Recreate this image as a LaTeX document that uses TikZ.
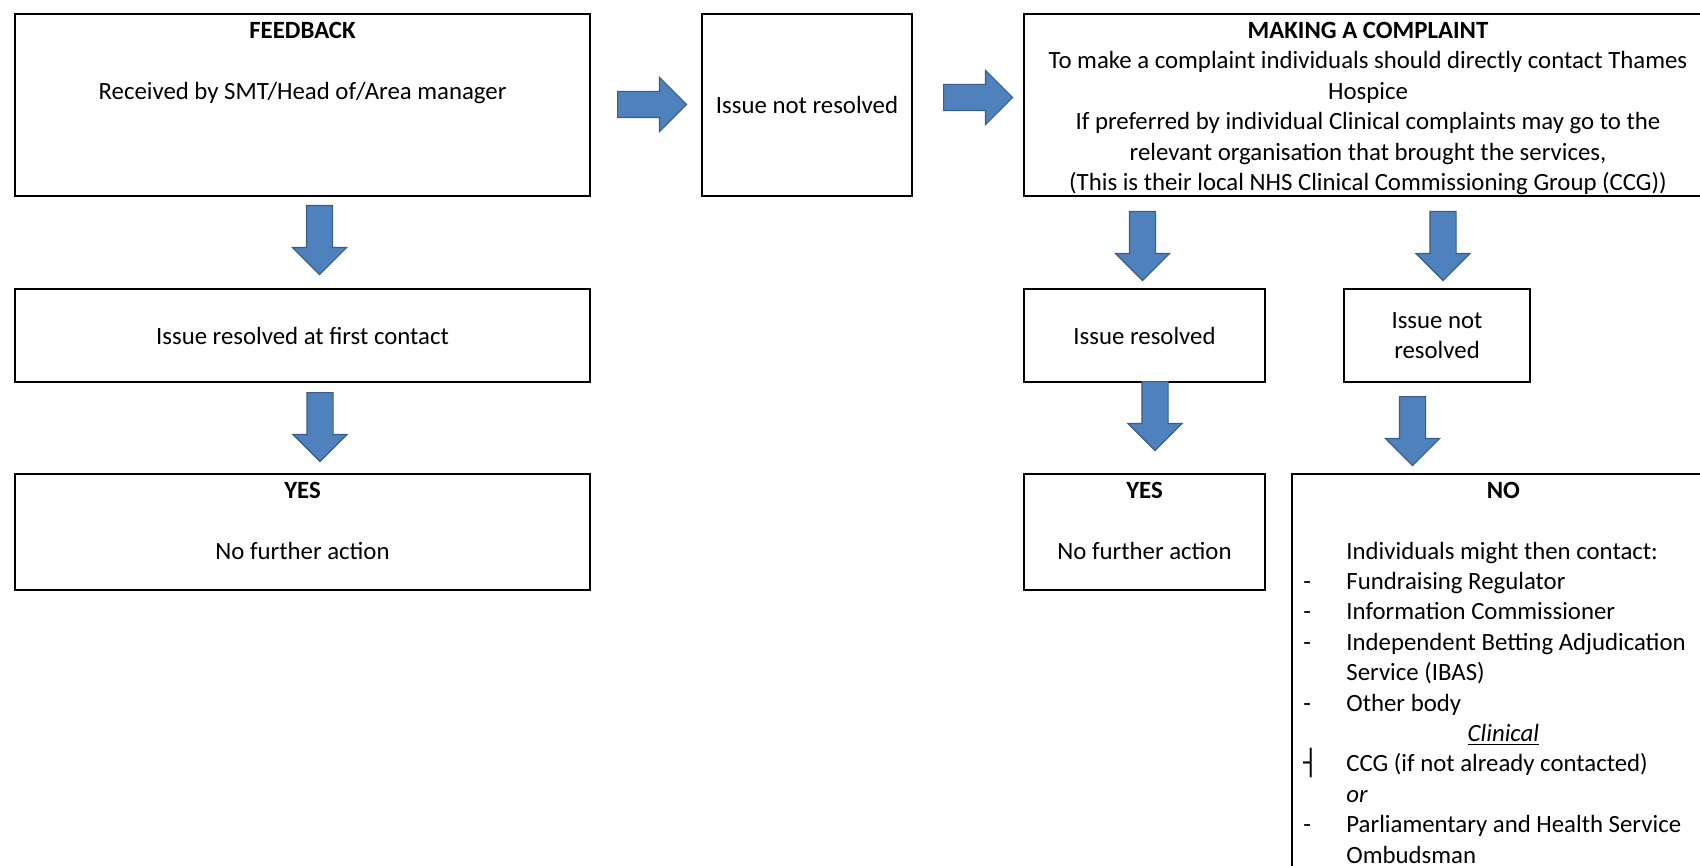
\documentclass[tikz,border=0pt]{standalone}
\usepackage{fontspec}
\setmainfont{Carlito}
\newfontfamily\symfont{DejaVu Sans}
\usetikzlibrary{shapes.arrows}

\definecolor{arrowfill}{HTML}{4F81BD}
\definecolor{arrowline}{HTML}{385D8A}

\tikzset{
  box/.style={draw=black, line width=0.75pt, anchor=north west, inner sep=0pt, outer sep=0pt, align=center},
  boxtext/.style={anchor=north, inner xsep=0pt, inner ysep=1.4pt, align=center},
  blockarrow/.style={single arrow, fill=arrowfill, draw=arrowline, line width=0.6pt, anchor=tail,
    inner sep=0pt, inner ysep=6.25pt, single arrow head extend=7pt, minimum height=34.5pt},
}

\begin{document}
\begin{tikzpicture}[x=0.5pt, y=-0.5pt, font=\fontsize{12.4}{15.2}\selectfont]
    \useasboundingbox (0,0) rectangle (1700,866);
    \clip (0,0) rectangle (1700,866);

    % Cajas - columna izquierda
    \node[box, minimum width=287.5pt, minimum height=91pt] (fb) at (15,14) {};
    \node[box, minimum width=287.5pt, minimum height=46.5pt] (first) at (15,289) {Issue resolved at first contact};
    \node[box, minimum width=287.5pt, minimum height=58pt] (yesA) at (15,474) {};

    % Caja central
    \node[box, minimum width=105pt, minimum height=91pt] (nrA) at (702,14) {Issue not resolved};

    % Cajas - queja
    \node[box, minimum width=344pt, minimum height=91pt] (mc) at (1024,14) {};
    \node[box, minimum width=120.5pt, minimum height=46.5pt] (res) at (1024,289) {Issue resolved};
    \node[box, minimum width=93pt, minimum height=46.5pt] (nrB) at (1344,289) {Issue not\\resolved};
    \node[box, minimum width=120.5pt, minimum height=58pt] (yesB) at (1024,474) {};
    \node[box, minimum width=210.5pt, minimum height=210pt] (no) at (1292,474) {};

    % Textos
    \node[boxtext] (fbtxt) at (fb.north) {\strut\textbf{FEEDBACK}\\[15.2pt] Received by SMT/Head of/Area manager};
    \node[boxtext] (yesAtxt) at (yesA.north) {\strut\textbf{YES}\\[15.2pt] No further action};
    \node[boxtext] (yesBtxt) at (yesB.north) {\strut\textbf{YES}\\[15.2pt] No further action};
    \node[boxtext] (mctxt) at (mc.north) {\strut\textbf{MAKING A COMPLAINT}\\
        To make a complaint individuals should directly contact Thames\\
        Hospice\\
        If preferred by individual Clinical complaints may go to the\\
        relevant organisation that brought the services,\\
        (This is their local NHS Clinical Commissioning Group (CCG))};
    \node[anchor=north west, inner sep=0pt, align=left] (notxt) at (1303,476.7) {%
        \makebox[200pt]{\strut\textbf{NO}}\\[15.2pt]
        \hspace*{21.5pt}Individuals might then contact:\\
        \makebox[21.5pt][l]{-}Fundraising Regulator\\
        \makebox[21.5pt][l]{-}Information Commissioner\\
        \makebox[21.5pt][l]{-}Independent Betting Adjudication\\
        \hspace*{21.5pt}Service (IBAS)\\
        \makebox[21.5pt][l]{-}Other body\\
        \makebox[200pt]{\underline{\textit{Clinical}}}\\
        \makebox[21.5pt][l]{\symfont ┤}CCG (if not already contacted)\\
        \hspace*{21.5pt}\textit{or}\\
        \makebox[21.5pt][l]{-}Parliamentary and Health Service\\
        \hspace*{21.5pt}Ombudsman};

    % Flechas
    \node[blockarrow] (arA) at (617,104.5) {};
    \node[blockarrow] (arB) at (943,97.5) {};
    \node[blockarrow, rotate=-90] (arC) at (319.5,205) {};
    \node[blockarrow, rotate=-90] (arD) at (320,392) {};
    \node[blockarrow, rotate=-90] (arE) at (1142.5,211) {};
    \node[blockarrow, rotate=-90] (arF) at (1443,211) {};
    \node[blockarrow, rotate=-90] (arG) at (1155,381) {};
    \node[blockarrow, rotate=-90] (arH) at (1412.5,396) {};
\end{tikzpicture}
\end{document}
